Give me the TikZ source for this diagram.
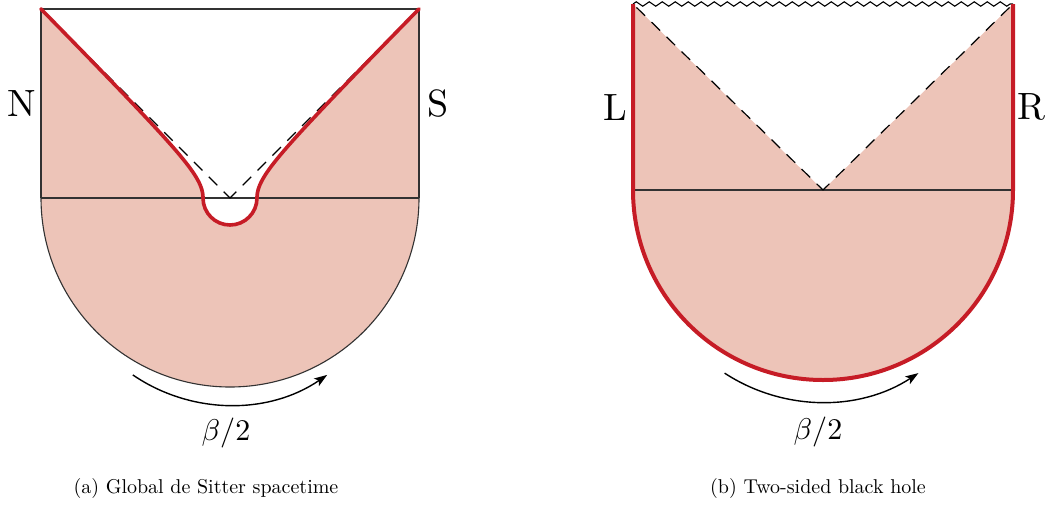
\RequirePackage{fix-cm}
\documentclass[tikz,border=0pt]{standalone}
\usepackage{graphicx}
\usetikzlibrary{arrows.meta,decorations.pathmorphing}
\definecolor{pinkfill}{RGB}{237,196,184}
\definecolor{redline}{RGB}{198,28,38}
\definecolor{thinline}{RGB}{50,50,50}
\tikzset{
  thin line/.style={draw=thinline, line width=1.1pt},
  horizon/.style={draw=black, line width=1.2pt, dash pattern=on 12pt off 9pt, dash phase=3pt},
  red curve/.style={draw=redline, line width=3.6pt, line cap=round, line join=round},
  beta arrow/.style={draw=black, line width=1.4pt, -{Stealth[length=13pt,width=9pt,inset=3pt]}},
  sidelabel/.style={inner sep=0pt},
  betalabel/.style={inner sep=0pt},
  caption/.style={inner sep=0pt}
}
\newcommand{\sidetext}[1]{\scalebox{3.8}{#1}}
\newcommand{\betatext}[1]{\scalebox{3.0}{#1}}
\newcommand{\captext}[1]{\scalebox{2.0}{#1}}
\begin{document}
\begin{tikzpicture}[x=1pt,y=1pt]
\useasboundingbox (0,0) rectangle (1047,-504);
% ---------------- left: global de Sitter ----------------
\coordinate (c1) at (230,-198);
\coordinate (tl1) at (41,-9);
\coordinate (tr1) at (419,-9);
\coordinate (ml1) at (41,-198);
\coordinate (mr1) at (419,-198);
\fill[pinkfill] (tl1) -- (ml1) arc[start angle=180,end angle=360,radius=189] -- (tr1) -- cycle;
\fill[white] (tl1) -- plot[domain=189:0,samples=90] ({230 - (sqrt((\x/10)^2+7.29)*10 - 0.0102*\x)},{-198+\x})
  arc[start angle=180,end angle=360,radius=27]
  -- plot[domain=0:189,samples=90] ({230 + (sqrt((\x/10)^2+7.29)*10 - 0.0102*\x)},{-198+\x}) -- cycle;
\draw[thin line] (tl1) -- (tr1);
\draw[thin line] (tl1) -- (ml1);
\draw[thin line] (tr1) -- (mr1);
\draw[thin line] (ml1) -- (mr1);
\draw[thin line] (ml1) arc[start angle=180,end angle=360,radius=189];
\draw[horizon] (c1) -- (tl1);
\draw[horizon] (c1) -- (tr1);
\draw[red curve] (tl1) -- plot[domain=189:0,samples=90] ({230 - (sqrt((\x/10)^2+7.29)*10 - 0.0102*\x)},{-198+\x})
  arc[start angle=180,end angle=360,radius=27]
  -- plot[domain=0:189,samples=90] ({230 + (sqrt((\x/10)^2+7.29)*10 - 0.0102*\x)},{-198+\x});
\coordinate (a1c) at (230,-233);
\draw[beta arrow] ([shift={(235.6:172)}]a1c) arc[start angle=235.6,end angle=304.4,radius=172];
\node[sidelabel] (N) at (22,-104) {\sidetext{N}};
\node[sidelabel] (S) at (438,-104) {\sidetext{S}};
\node[betalabel] (b1) at (226,-433) {\betatext{$\beta/2$}};
\node[caption] (cap1) at (206,-488) {\captext{(a) Global de Sitter spacetime}};
% ---------------- right: two-sided black hole ----------------
\coordinate (c2) at (823,-190);
\coordinate (tl2) at (633,-4);
\coordinate (tr2) at (1013,-4);
\coordinate (ml2) at (633,-190);
\coordinate (mr2) at (1013,-190);
\fill[pinkfill] (tl2) -- (ml2) arc[start angle=180,end angle=360,radius=190] -- (tr2) -- cycle;
\fill[white] (tl2) -- (c2) -- (tr2) -- cycle;
\draw[thin line] (ml2) -- (mr2);
\draw[black, line width=1.1pt, decorate, decoration={zigzag,segment length=13pt,amplitude=2.2pt}] (tl2) -- (tr2);
\draw[horizon] (c2) -- (tl2);
\draw[horizon] (c2) -- (tr2);
\draw[red curve, line width=4pt, line cap=butt] (tl2) -- (ml2) arc[start angle=180,end angle=360,radius=190] -- (tr2);
\coordinate (a2c) at (821.5,-225);
\draw[beta arrow] ([shift={(236.8:177)}]a2c) arc[start angle=236.8,end angle=303.2,radius=177];
\node[sidelabel] (L) at (615,-108) {\sidetext{L}};
\node[sidelabel] (R) at (1031,-107) {\sidetext{R}};
\node[betalabel] (b2) at (818,-432) {\betatext{$\beta/2$}};
\node[caption] (cap2) at (818,-488) {\captext{(b) Two-sided black hole}};
\end{tikzpicture}
\end{document}
